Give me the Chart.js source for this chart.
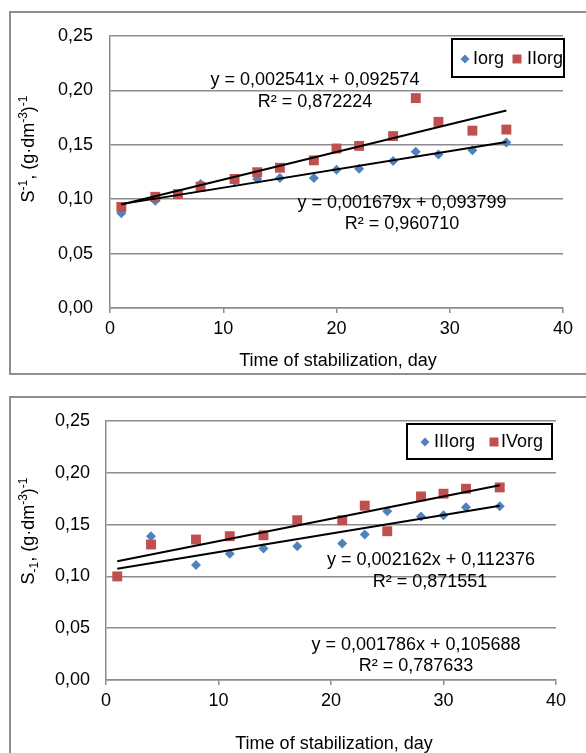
<!DOCTYPE html>
<html>
<head>
<meta charset="utf-8">
<script src="https://cdn.jsdelivr.net/npm/chart.js@4.4.1/dist/chart.umd.min.js"></script>
<style>
body { margin: 0; background: #fff; width: 586px; height: 753px; overflow: hidden; position: relative; }
.frame { position: absolute; border: 2px solid #8e8e8e; }
#frame1 { left: 9px; top: 11px; width: 620px; height: 360px; }
#frame2 { left: 9px; top: 396px; width: 620px; height: 420px; }
canvas { position: absolute; left: 0; }
#chart1 { top: 0; }
#chart2 { top: 385px; }
</style>
</head>
<body>
<div class="frame" id="frame1"></div>
<div class="frame" id="frame2"></div>
<canvas id="chart1" width="586" height="385"></canvas>
<canvas id="chart2" width="586" height="368"></canvas>
<script>
const FONT = '"Liberation Sans", Arial, sans-serif';
const BLUE = '#4f81bd';
const RED = '#c0504d';

// top chart
const days1 = [1, 4, 6, 8, 11, 13, 15, 18, 20, 22, 25, 27, 29, 32, 35];
const iorg = [0.087, 0.0985, 0.104, 0.114, 0.117, 0.1186, 0.1196, 0.1196, 0.127, 0.128, 0.135, 0.1435, 0.141, 0.145, 0.152];
const iiorg = [0.0929, 0.1022, 0.1047, 0.1115, 0.1186, 0.1248, 0.1289, 0.1357, 0.1466, 0.149, 0.158, 0.1929, 0.1711, 0.163, 0.164];
const trendDays = [1, 35];
const trendIorg = [0.095478, 0.152564];
const trendIIorg = [0.095115, 0.181509];

// bottom chart
const days2 = [1, 4, 8, 11, 14, 17, 21, 23, 25, 28, 30, 32, 35];
const iiiorg = [0.100, 0.1388, 0.1109, 0.1218, 0.1269, 0.1292, 0.1317, 0.1404, 0.1628, 0.1577, 0.159, 0.1667, 0.1676];
const ivorg = [0.100, 0.1308, 0.1356, 0.1388, 0.1397, 0.1542, 0.1542, 0.1683, 0.1436, 0.1772, 0.1798, 0.1846, 0.1859];
const trendIIIorg = [0.107474, 0.168198];
const trendIVorg = [0.114538, 0.188046];

const xTitle = 'Time of stabilization, day';

function pts(xs, ys) {
    return xs.map((x, i) => ({ x: x, y: ys[i] }));
}

function drawYTitle(ctx, parts, cx, cy) {
    ctx.save();
    ctx.translate(cx, cy);
    ctx.rotate(-Math.PI / 2);
    ctx.fillStyle = '#000';
    ctx.textBaseline = 'alphabetic';
    ctx.textAlign = 'left';
    let total = 0;
    parts.forEach(p => {
        ctx.font = (p.shift ? '12px ' : '18px ') + FONT;
        total += ctx.measureText(p.text).width;
    });
    let x = -total / 2;
    parts.forEach(p => {
        ctx.font = (p.shift ? '12px ' : '18px ') + FONT;
        ctx.fillText(p.text, x, 6 + p.shift);
        x += ctx.measureText(p.text).width;
    });
    ctx.restore();
}

function drawLegend(ctx, lg) {
    ctx.save();
    ctx.strokeStyle = '#000';
    ctx.lineWidth = 2;
    ctx.strokeRect(lg.box[0], lg.box[1], lg.box[2] - lg.box[0], lg.box[3] - lg.box[1]);
    const cy = lg.cy;
    ctx.fillStyle = BLUE;
    ctx.beginPath();
    ctx.moveTo(lg.diamond, cy - 4.5);
    ctx.lineTo(lg.diamond + 4.5, cy);
    ctx.lineTo(lg.diamond, cy + 4.5);
    ctx.lineTo(lg.diamond - 4.5, cy);
    ctx.closePath();
    ctx.fill();
    ctx.fillStyle = RED;
    ctx.fillRect(lg.square - 4.5, cy - 4.5, 9, 9);
    ctx.fillStyle = '#000';
    ctx.font = '18px ' + FONT;
    ctx.textBaseline = 'middle';
    ctx.textAlign = 'left';
    ctx.fillText(lg.names[0], lg.text1, cy);
    ctx.fillText(lg.names[1], lg.text2, cy);
    ctx.restore();
}

function makeChart(id, cfg) {
    const ctx = document.getElementById(id).getContext('2d');
    const textPlugin = {
        id: 'texts' + id,
        afterDraw(chart) {
            const c = chart.ctx;
            c.save();
            c.fillStyle = '#000';
            c.font = '18px ' + FONT;
            c.textAlign = 'center';
            c.textBaseline = 'middle';
            cfg.notes.forEach(n => c.fillText(n.text, n.x, n.y));
            c.fillText(xTitle, cfg.xTitlePos[0], cfg.xTitlePos[1]);
            c.restore();
            drawYTitle(c, cfg.yTitle, cfg.yTitlePos[0], cfg.yTitlePos[1]);
            drawLegend(c, cfg.legend);
        }
    };
    new Chart(ctx, {
        type: 'scatter',
        data: {
            datasets: [
                { type: 'line', data: pts(trendDays, cfg.trendA), borderColor: '#000', borderWidth: 2, pointRadius: 0, fill: false, order: 0 },
                { type: 'line', data: pts(trendDays, cfg.trendB), borderColor: '#000', borderWidth: 2, pointRadius: 0, fill: false, order: 0 },
                { label: cfg.legend.names[1], data: pts(cfg.days, cfg.seriesB), pointStyle: 'rect', pointRadius: 7, pointHoverRadius: 7, backgroundColor: RED, borderWidth: 0, order: 1 },
                { label: cfg.legend.names[0], data: pts(cfg.days, cfg.seriesA), pointStyle: 'rectRot', pointRadius: 5, pointHoverRadius: 5, backgroundColor: BLUE, borderWidth: 0, order: 2 }
            ]
        },
        options: {
            responsive: false,
            animation: false,
            layout: { padding: { top: 36, right: cfg.padRight, left: 0, bottom: 0 } },
            plugins: { legend: { display: false }, tooltip: { enabled: false } },
            scales: {
                x: {
                    type: 'linear', min: 0, max: 40,
                    afterFit: s => { s.height = cfg.bottomH; },
                    ticks: { stepSize: 10, padding: 5, color: '#000', font: { family: FONT, size: 18 } },
                    grid: { drawOnChartArea: false, drawTicks: true, tickLength: 5, color: '#8c8c8c', lineWidth: 1.5 },
                    border: { color: '#8c8c8c', width: 1.5 }
                },
                y: {
                    min: 0, max: 0.25,
                    afterFit: s => { s.width = cfg.leftW; },
                    ticks: { stepSize: 0.05, padding: cfg.yPad, color: '#000', font: { family: FONT, size: 18 },
                        callback: v => v.toFixed(2).replace('.', ',') },
                    grid: { drawTicks: false, color: '#8c8c8c', lineWidth: 1.5 },
                    border: { color: '#8c8c8c', width: 1.5 }
                }
            }
        },
        plugins: [textPlugin]
    });
}

makeChart('chart1', {
    days: days1, seriesA: iorg, seriesB: iiorg,
    trendA: trendIIorg, trendB: trendIorg,
    leftW: 110, padRight: 23, bottomH: 77, yPad: 17,
    notes: [
        { text: 'y = 0,002541x + 0,092574', x: 315, y: 80 },
        { text: 'R² = 0,872224', x: 315, y: 102 },
        { text: 'y = 0,001679x + 0,093799', x: 402, y: 203 },
        { text: 'R² = 0,960710', x: 402, y: 224 }
    ],
    xTitlePos: [338, 361],
    yTitlePos: [28, 149],
    yTitle: [
        { text: 'S', shift: 0 }, { text: '-1', shift: -7 }, { text: ', (g·dm', shift: 0 },
        { text: '-3', shift: -7 }, { text: ')', shift: 0 }, { text: '-1', shift: -7 }
    ],
    legend: { names: ['Iorg', 'IIorg'], box: [452, 39, 564, 77], cy: 59, diamond: 465, text1: 473, square: 517, text2: 527 }
});

makeChart('chart2', {
    days: days2, seriesA: iiiorg, seriesB: ivorg,
    trendA: trendIVorg, trendB: trendIIIorg,
    leftW: 106, padRight: 30, bottomH: 73, yPad: 16,
    notes: [
        { text: 'y = 0,002162x + 0,112376', x: 431, y: 175 },
        { text: 'R² = 0,871551', x: 430, y: 197 },
        { text: 'y = 0,001786x + 0,105688', x: 416, y: 260 },
        { text: 'R² = 0,787633', x: 416, y: 281 }
    ],
    xTitlePos: [334, 359],
    yTitlePos: [28, 146],
    yTitle: [
        { text: 'S', shift: 0 }, { text: '-1', shift: 4 }, { text: ', (g·dm', shift: 0 },
        { text: '-3', shift: -7 }, { text: ')', shift: 0 }, { text: '-1', shift: -7 }
    ],
    legend: { names: ['IIIorg', 'IVorg'], box: [407, 39, 552, 74], cy: 57, diamond: 425, text1: 434, square: 494, text2: 501 }
});
</script>
</body>
</html>
